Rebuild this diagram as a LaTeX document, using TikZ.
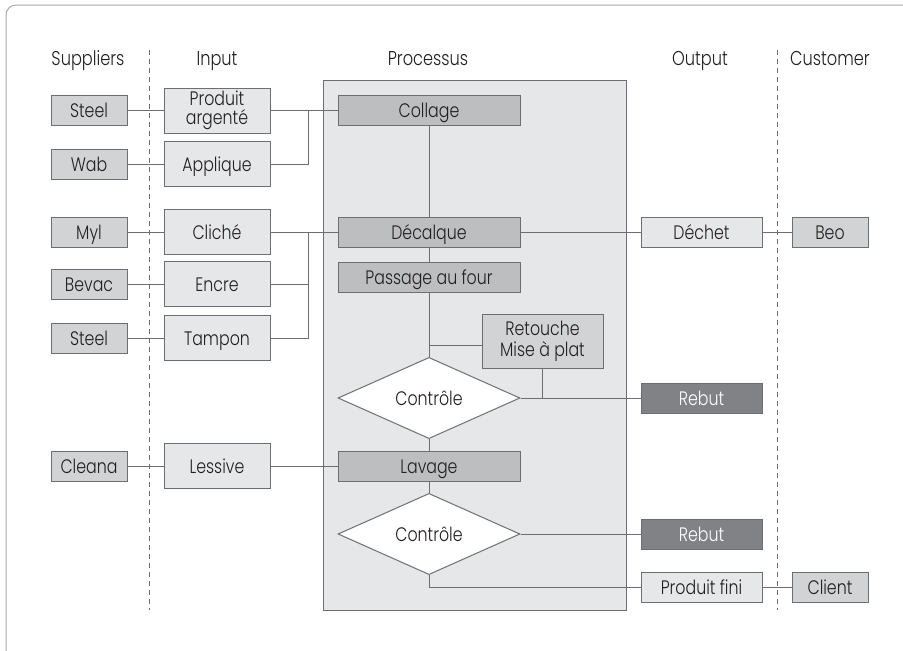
\documentclass[tikz,border=0pt]{standalone}
\usepackage{fontspec}
\setmainfont{Poppins}[UprightFont=* Light, FakeStretch=0.81]
\usetikzlibrary{shapes.geometric}
\definecolor{lineC}{HTML}{6D6E71}
\definecolor{lightF}{HTML}{E6E7E8}
\definecolor{midF}{HTML}{D1D3D4}
\definecolor{procF}{HTML}{BCBEC0}
\definecolor{darkF}{HTML}{808285}
\definecolor{frameC}{HTML}{A7A9AC}
\definecolor{txt}{HTML}{231F20}
\begin{document}
\begin{tikzpicture}[x=1pt,y=-1pt,
 font=\fontsize{19.5}{17}\selectfont, text=txt,
 box/.style={draw=lineC, line width=1pt, minimum height=30pt, inner sep=0pt, align=center},
 one/.style={text height=14pt, text depth=0pt},
 supbox/.style={box, one, fill=midF, minimum width=76pt},
 inpbox/.style={box, fill=lightF, minimum width=106pt, minimum height=45pt},
 procbox/.style={box, one, fill=procF, minimum width=182pt},
 outbox/.style={box, one, fill=lightF, minimum width=121pt},
 rejbox/.style={box, one, fill=darkF, minimum width=121pt, text=white},
 dia/.style={diamond, one, draw=lineC, fill=white, line width=1pt, minimum width=182pt, minimum height=74pt, inner sep=0pt},
 conn/.style={draw=lineC, line width=0.8pt},
 hdr/.style={anchor=base, font=\fontsize{20}{20}\selectfont},
 sepline/.style={draw=lineC, line width=0.8pt, dash pattern=on 5pt off 4pt}
]
\useasboundingbox (0,0) rectangle (903,651);
\begin{scope}
\clip (0,0) rectangle (903,651);
\draw[frameC, line width=1pt, rounded corners=10pt] (6,5) rectangle (915,665);
\end{scope}

% headers
\node[hdr] (hS) at (88,65) {Suppliers};
\node[hdr] (hI) at (217,65) {Input};
\node[hdr] (hP) at (428,65) {Processus};
\node[hdr] (hO) at (700,65) {Output};
\node[hdr] (hC) at (830,65) {Customer};

% separators
\coordinate (sa1) at (149,50); \coordinate (sa2) at (149,610);
\coordinate (sb1) at (777,50); \coordinate (sb2) at (777,610);
\draw[sepline] (sa1) -- (sa2);
\draw[sepline] (sb1) -- (sb2);

% process background
\node[draw=lineC, fill=lightF, line width=1pt, minimum width=303pt, minimum height=530pt, inner sep=0pt] (pbg) at (474.5,345) {};

% suppliers
\node[supbox] (s1) at (89,110.5) {Steel};
\node[supbox] (s2) at (89,164) {Wab};
\node[supbox] (s3) at (89,232) {Myl};
\node[supbox] (s4) at (89,284) {Bevac};
\node[supbox] (s5) at (89,338) {Steel};
\node[supbox] (s6) at (89,466) {Cleana};

% inputs
\node[inpbox, font=\fontsize{19.5}{19}\selectfont] (i1) at (217,110.5) {Produit\\argenté};
\node[inpbox, one] (i2) at (217,164) {Applique};
\node[inpbox, one] (i3) at (217,232) {Cliché};
\node[inpbox, one] (i4) at (217,284) {Encre};
\node[inpbox, one] (i5) at (217,338) {Tampon};
\node[inpbox, one] (i6) at (217,466) {Lessive};

% process
\node[procbox] (p1) at (429,110.5) {Collage};
\node[procbox] (p2) at (429,232) {Décalque};
\node[procbox] (p3) at (429,277) {Passage au four};
\node[box, fill=midF, minimum width=121pt, minimum height=54pt, font=\fontsize{19.5}{21}\selectfont] (ret) at (542.5,341) {Retouche\\Mise à plat};
\node[dia] (d1) at (429,398) {Contrôle};
\node[procbox] (p4) at (429,466) {Lavage};
\node[dia] (d2) at (429,534) {Contrôle};

% outputs
\node[outbox] (o1) at (701.5,232) {Déchet};
\node[rejbox] (r1) at (701.5,398) {Rebut};
\node[rejbox] (r2) at (701.5,534) {Rebut};
\node[outbox] (o2) at (701.5,587) {Produit fini};

% customers
\node[supbox] (c1) at (830,232) {Beo};
\node[supbox] (c2) at (830,587) {Client};

% connectors suppliers-inputs
\foreach \k in {1,...,6} { \draw[conn] (s\k.east) -- (i\k.west |- s\k.east); }

% input groups
\coordinate (j1) at (308,110.5);
\coordinate (j2) at (308,232);
\draw[conn] (i1.east) -- (p1.west);
\draw[conn] (i2.east) -| (j1);
\draw[conn] (i3.east) -- (p2.west);
\draw[conn] (i4.east) -| (j2);
\draw[conn] (i5.east) -| (j2);
\draw[conn] (i6.east) -- (p4.west);

% process chain
\draw[conn] (p1) -- (p2);
\draw[conn] (p2) -- (p3);
\draw[conn] (p3) -- (d1);
\coordinate (j3) at (429,345);
\draw[conn] (j3) -- (j3 -| ret.west);
\draw[conn] (ret.south) -- (ret.south |- d1.east);
\draw[conn] (d1.east) -- (r1.west);
\draw[conn] (d1) -- (p4);
\draw[conn] (p4) -- (d2);
\draw[conn] (d2.east) -- (r2.west);
\draw[conn] (d2.south) |- (o2.west);
\draw[conn] (p2.east) -- (o1.west);
\draw[conn] (o1) -- (c1);
\draw[conn] (o2) -- (c2);
\end{tikzpicture}
\end{document}
